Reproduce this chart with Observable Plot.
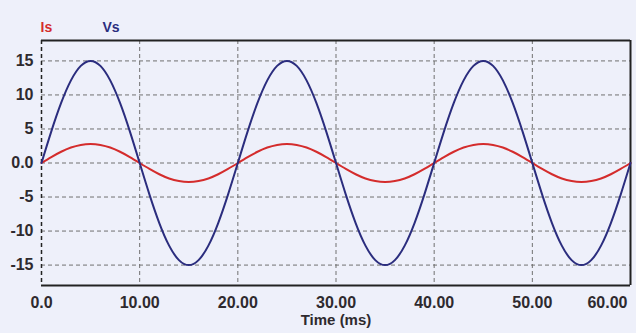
<!DOCTYPE html>
<html>
<head>
<meta charset="utf-8">
<script src="https://cdn.jsdelivr.net/npm/d3@7"></script>
<script src="https://cdn.jsdelivr.net/npm/@observablehq/plot@0.6"></script>
<style>
  html, body { margin: 0; padding: 0; background: #eef0fa; }
</style>
</head>
<body>
<div id="chart"></div>
<script>
const timeMs = [0,1,2,3,4,5,6,7,8,9,10,11,12,13,14,15,16,17,18,19,
  20,21,22,23,24,25,26,27,28,29,30,31,32,33,34,35,36,37,38,39,
  40,41,42,43,44,45,46,47,48,49,50,51,52,53,54,55,56,57,58,59,60];
const vsValues = [0,4.64,8.82,12.14,14.27,15,14.27,12.14,8.82,4.64,0,-4.64,-8.82,-12.14,-14.27,-15,-14.27,-12.14,-8.82,-4.64,
  0,4.64,8.82,12.14,14.27,15,14.27,12.14,8.82,4.64,0,-4.64,-8.82,-12.14,-14.27,-15,-14.27,-12.14,-8.82,-4.64,
  0,4.64,8.82,12.14,14.27,15,14.27,12.14,8.82,4.64,0,-4.64,-8.82,-12.14,-14.27,-15,-14.27,-12.14,-8.82,-4.64,0];
const isValues = [0,0.87,1.65,2.27,2.66,2.8,2.66,2.27,1.65,0.87,0,-0.87,-1.65,-2.27,-2.66,-2.8,-2.66,-2.27,-1.65,-0.87,
  0,0.87,1.65,2.27,2.66,2.8,2.66,2.27,1.65,0.87,0,-0.87,-1.65,-2.27,-2.66,-2.8,-2.66,-2.27,-1.65,-0.87,
  0,0.87,1.65,2.27,2.66,2.8,2.66,2.27,1.65,0.87,0,-0.87,-1.65,-2.27,-2.66,-2.8,-2.66,-2.27,-1.65,-0.87,0];
const xTicks = [0,10,20,30,40,50];
const xLastTick = [60];
const yTicks = [-15,-10,-5,0,5,10,15];
const seriesNames = ["Is", "Vs"];

const RED = "#d42c2c", NAVY = "#2b2d7e", INK = "#2e2a2e";
const vsData = timeMs.map((t, i) => ({t, v: vsValues[i]}));
const isData = timeMs.map((t, i) => ({t, v: isValues[i]}));
const fmtX = d => d === 0 ? "0.0" : d.toFixed(2);

const chart = Plot.plot({
  width: 636, height: 333,
  marginLeft: 41, marginRight: 6, marginTop: 40, marginBottom: 48,
  style: {background: "#eef0fa", fontFamily: "'Liberation Sans', Arial, sans-serif", fontWeight: "bold", fontSize: "16px", color: INK},
  x: {domain: [0, 60]},
  y: {domain: [-18, 18]},
  marks: [
    Plot.gridX([10,20,30,40,50], {stroke: "#707070", strokeOpacity: 1, strokeDasharray: "4,3"}),
    Plot.gridY(yTicks, {stroke: "#707070", strokeOpacity: 1, strokeDasharray: "4,3"}),
    Plot.ruleX([0], {stroke: "#222", strokeWidth: 1.5, strokeDasharray: "4,3"}),
    Plot.ruleX([60], {stroke: "#222", strokeWidth: 2}),
    Plot.ruleY([-18, 18], {stroke: "#222", strokeWidth: 2}),
    Plot.axisX(xTicks, {tickSize: 0, tickPadding: 11, tickFormat: fmtX, label: null, fill: INK}),
    Plot.axisX(xLastTick, {tickSize: 0, tickPadding: 11, tickFormat: fmtX, label: null, textAnchor: "end", dx: -3, fill: INK}),
    Plot.axisY(yTicks, {tickSize: 0, tickPadding: 8, tickFormat: d => d === 0 ? "0.0" : String(d), label: null, fill: INK}),
    Plot.text(["Time (ms)"], {frameAnchor: "bottom", dy: 39, fill: INK, fontSize: 15}),
    Plot.line(isData, {x: "t", y: "v", stroke: RED, strokeWidth: 2, curve: "natural"}),
    Plot.line(vsData, {x: "t", y: "v", stroke: NAVY, strokeWidth: 2, curve: "natural"}),
    Plot.text([seriesNames[0]], {frameAnchor: "top-left", textAnchor: "start", dx: -1, dy: -18, fill: RED, fontSize: 14}),
    Plot.text([seriesNames[1]], {frameAnchor: "top-left", textAnchor: "start", dx: 61, dy: -18, fill: NAVY, fontSize: 14})
  ]
});
document.getElementById("chart").appendChild(chart);
</script>
</body>
</html>
